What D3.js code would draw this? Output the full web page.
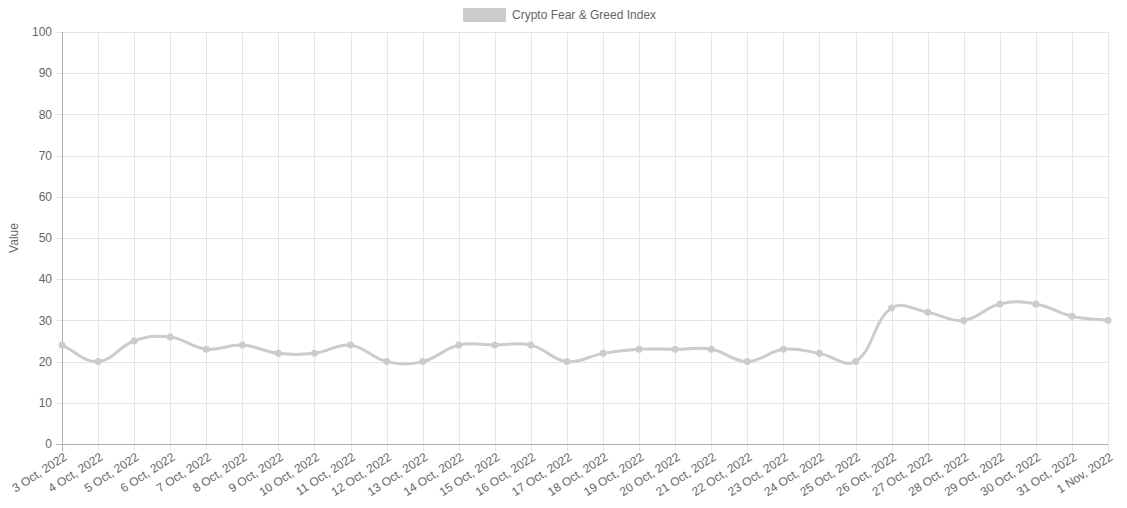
<!DOCTYPE html>
<html><head><meta charset="utf-8">
<script src="https://cdn.jsdelivr.net/npm/d3@7"></script>
<style>body{margin:0;background:#fff}svg{display:block}text{font-family:"Liberation Sans",Arial,sans-serif}</style>
</head><body><svg id="c" width="1127" height="508"></svg>
<script>
const categories = ["3 Oct, 2022","4 Oct, 2022","5 Oct, 2022","6 Oct, 2022","7 Oct, 2022","8 Oct, 2022","9 Oct, 2022","10 Oct, 2022","11 Oct, 2022","12 Oct, 2022","13 Oct, 2022","14 Oct, 2022","15 Oct, 2022","16 Oct, 2022","17 Oct, 2022","18 Oct, 2022","19 Oct, 2022","20 Oct, 2022","21 Oct, 2022","22 Oct, 2022","23 Oct, 2022","24 Oct, 2022","25 Oct, 2022","26 Oct, 2022","27 Oct, 2022","28 Oct, 2022","29 Oct, 2022","30 Oct, 2022","31 Oct, 2022","1 Nov, 2022"];
const values = [24,20,25,26,23,24,22,22,24,20,20,24,24,24,20,22,23,23,23,20,23,22,20,33,32,30,34,34,31,30];
const yTicks = [0,10,20,30,40,50,60,70,80,90,100];
const seriesName = "Crypto Fear & Greed Index";
const yTitle = "Value";

const svg = d3.select("#c");
const L = 62, R = 1108, T = 32, B = 444;
const x = d3.scalePoint().domain(categories).range([L, R]);
const y = d3.scaleLinear().domain([0, 100]).range([B, T]);
const grid = "#e5e5e5", txt = "#666", lineCol = "#cccccc";

// horizontal grid
svg.append("g").selectAll("line").data(yTicks).join("line")
  .attr("x1", L - 6).attr("x2", R).attr("y1", d => Math.round(y(d)) + 0.5).attr("y2", d => Math.round(y(d)) + 0.5)
  .attr("stroke", grid).attr("stroke-width", 1);
// vertical grid
svg.append("g").selectAll("line").data(categories).join("line")
  .attr("x1", d => Math.round(x(d)) + 0.5).attr("x2", d => Math.round(x(d)) + 0.5)
  .attr("y1", T).attr("y2", B + 7)
  .attr("stroke", grid).attr("stroke-width", 1);
// axis lines
svg.append("line").attr("x1", L + 0.5).attr("x2", L + 0.5).attr("y1", T).attr("y2", B + 7).attr("stroke", "#b0b0b0");
svg.append("line").attr("x1", L - 6).attr("x2", R).attr("y1", B + 0.5).attr("y2", B + 0.5).attr("stroke", "#b0b0b0");

// y labels
svg.append("g").selectAll("text").data(yTicks).join("text")
  .attr("x", L - 10).attr("y", d => y(d)).attr("dy", "0.35em")
  .attr("text-anchor", "end").attr("font-size", 12).attr("fill", txt).text(d => d);
// y title
svg.append("text").attr("transform", `translate(18,${(T + B) / 2}) rotate(-90)`)
  .attr("text-anchor", "middle").attr("font-size", 12).attr("fill", txt).text(yTitle);
// x labels
svg.append("g").selectAll("text").data(categories).join("text")
  .attr("transform", d => `translate(${x(d) + 1},${B + 8}) rotate(-33)`)
  .attr("text-anchor", "end").attr("dy", "0.7em").attr("font-size", 12).attr("fill", txt).text(d => d);

// Chart.js-style spline (tension 0.4)
const pts = categories.map((c, i) => [x(c), y(values[i])]);
const t = 0.4;
const cps = pts.map((p, i) => {
  const prev = pts[i - 1] || p, next = pts[i + 1] || p;
  const d01 = Math.hypot(p[0] - prev[0], p[1] - prev[1]);
  const d12 = Math.hypot(next[0] - p[0], next[1] - p[1]);
  let s01 = d01 / (d01 + d12), s12 = d12 / (d01 + d12);
  if (!isFinite(s01)) s01 = 0; if (!isFinite(s12)) s12 = 0;
  const fa = t * s01, fb = t * s12;
  return {
    prev: [p[0] - fa * (next[0] - prev[0]), p[1] - fa * (next[1] - prev[1])],
    next: [p[0] + fb * (next[0] - prev[0]), p[1] + fb * (next[1] - prev[1])]
  };
});
const path = d3.path();
path.moveTo(pts[0][0], pts[0][1]);
for (let i = 1; i < pts.length; i++) {
  path.bezierCurveTo(cps[i - 1].next[0], cps[i - 1].next[1], cps[i].prev[0], cps[i].prev[1], pts[i][0], pts[i][1]);
}
svg.append("path").attr("d", path.toString()).attr("fill", "none")
  .attr("stroke", lineCol).attr("stroke-width", 3);
svg.append("g").selectAll("circle").data(pts).join("circle")
  .attr("cx", d => d[0]).attr("cy", d => d[1]).attr("r", 3.5).attr("fill", lineCol);

// legend
svg.append("rect").attr("x", 463).attr("y", 8).attr("width", 43).attr("height", 14).attr("fill", lineCol);
svg.append("text").attr("x", 512).attr("y", 15).attr("dy", "0.35em").attr("font-size", 12).attr("fill", txt).text(seriesName);
</script></body></html>
